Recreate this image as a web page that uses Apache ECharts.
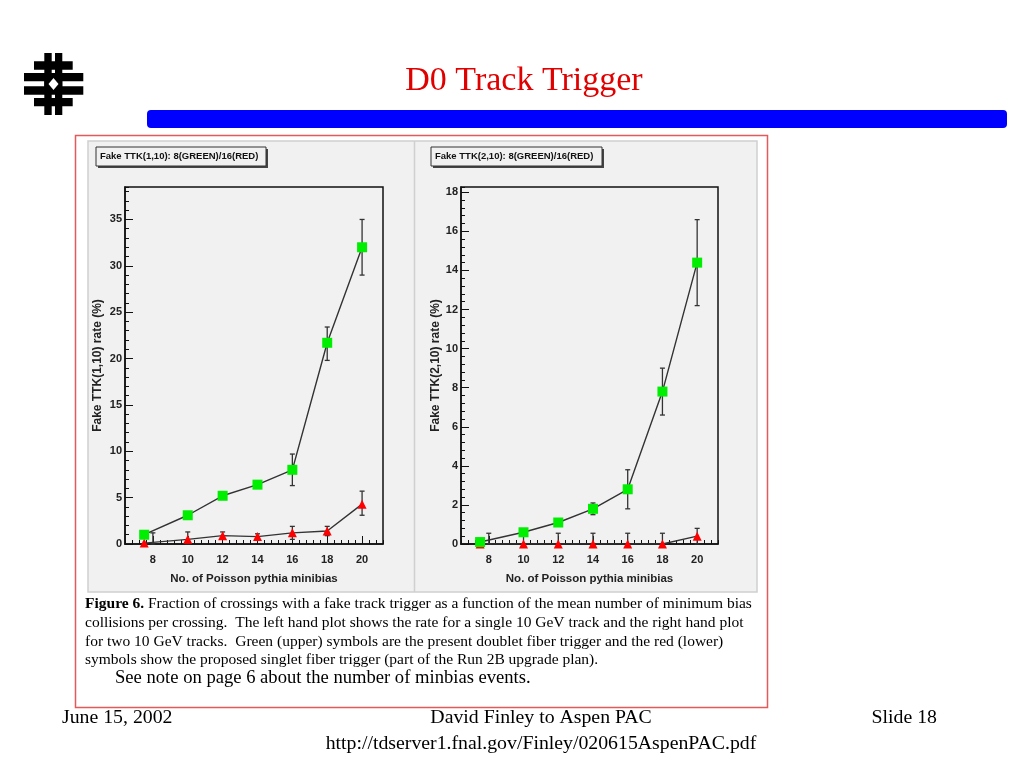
<!DOCTYPE html>
<html>
<head>
<meta charset="utf-8">
<script src="https://cdn.jsdelivr.net/npm/echarts@6/dist/echarts.min.js"></script>
<style>
html,body{margin:0;padding:0;background:#fff;}
#c{width:1024px;height:768px;}
</style>
</head>
<body>
<div id="c"></div>
<script>
// ---- data ----
var xPts = [7.5, 10, 12, 14, 16, 18, 20];
var redErrX = [8, 10, 12, 14, 16, 18, 20];

var leftGreen   = [1.0, 3.1, 5.2, 6.4, 8.0, 21.7, 32.0];
var leftGreenLo = [0.7, 2.9, 5.0, 6.0, 6.3, 19.8, 29.0];
var leftGreenHi = [1.3, 3.3, 5.4, 6.8, 9.7, 23.4, 35.0];
var leftRed     = [0.1, 0.5, 0.9, 0.8, 1.2, 1.4, 4.3];
var leftRedLo   = [0.0, 0.0, 0.5, 0.5, 0.5, 0.9, 3.1];
var leftRedHi   = [1.2, 1.3, 1.3, 1.1, 1.9, 1.9, 5.7];

var rightGreen   = [0.1, 0.6, 1.1, 1.8, 2.8, 7.8, 14.4];
var rightGreenLo = [0.0, 0.45, 0.95, 1.5, 1.8, 6.6, 12.2];
var rightGreenHi = [0.2, 0.75, 1.25, 2.1, 3.8, 9.0, 16.6];
var rightRed     = [0, 0, 0, 0, 0, 0, 0.4];
var rightRedLo   = [0, 0, 0, 0, 0, 0, 0.0];
var rightRedHi   = [0.55, 0.55, 0.55, 0.55, 0.55, 0.55, 0.8];

var xTickLabels = [8, 10, 12, 14, 16, 18, 20];
var leftYTickLabels = [0, 5, 10, 15, 20, 25, 30, 35];
var rightYTickLabels = [0, 2, 4, 6, 8, 10, 12, 14, 16, 18];

var leftTitle = 'Fake TTK(1,10): 8(GREEN)/16(RED)';
var rightTitle = 'Fake TTK(2,10): 8(GREEN)/16(RED)';
var leftYName = 'Fake TTK(1,10) rate (%)';
var rightYName = 'Fake TTK(2,10) rate (%)';
var xName = 'No. of Poisson pythia minibias';

var captionLines = [
  'Fraction of crossings with a fake track trigger as a function of the mean number of minimum bias',
  'collisions per crossing.  The left hand plot shows the rate for a single 10 GeV track and the right hand plot',
  'for two 10 GeV tracks.  Green (upper) symbols are the present doublet fiber trigger and the red (lower)',
  'symbols show the proposed singlet fiber trigger (part of the Run 2B upgrade plan).'
];

// ---- helpers ----
function pairs(xs, ys){ return xs.map(function(x,i){return [x, ys[i]];}); }
function triples(xs, lo, hi){ return xs.map(function(x,i){return [x, lo[i], hi[i]];}); }

var SANS = 'Liberation Sans, Arial, sans-serif';
var SERIF = 'Liberation Serif, Times New Roman, serif';
var INK = '#222';

function errItem(params, api){
  var x = api.value(0), lo = api.value(1), hi = api.value(2);
  var p1 = api.coord([x, lo]), p2 = api.coord([x, hi]);
  var w = 2.5, st = {stroke: '#333', lineWidth: 1.3};
  return {type: 'group', children: [
    {type: 'line', shape: {x1: p1[0], y1: p1[1], x2: p2[0], y2: p2[1]}, style: st},
    {type: 'line', shape: {x1: p1[0]-w, y1: p1[1], x2: p1[0]+w, y2: p1[1]}, style: st},
    {type: 'line', shape: {x1: p2[0]-w, y1: p2[1], x2: p2[0]+w, y2: p2[1]}, style: st}
  ]};
}

function majorX(grid){
  return {
    type: 'value', gridIndex: grid, min: 6.4, max: 21.2, position: 'bottom',
    name: xName, nameLocation: 'middle', nameGap: 29,
    nameTextStyle: {fontFamily: SANS, fontSize: 11.5, color: INK, fontWeight: 'bold'},
    axisLine: {show: true, onZero: false, lineStyle: {color: '#111', width: 1.5}},
    axisTick: {show: true, inside: true, length: 8, customValues: xTickLabels, lineStyle: {color: '#111', width: 1}},
    axisLabel: {customValues: xTickLabels, margin: 10, fontFamily: SANS, fontSize: 11, fontWeight: 'bold', color: INK},
    splitLine: {show: false}
  };
}
function minorX(grid){
  return {
    type: 'value', gridIndex: grid, min: 6.4, max: 21.2, interval: 0.4, position: 'bottom', offset: 0,
    axisLine: {show: false, onZero: false},
    axisTick: {show: true, inside: true, length: 4, lineStyle: {color: '#111', width: 1}},
    axisLabel: {show: false}, splitLine: {show: false}
  };
}
function majorY(grid, max, ticks, name, gap){
  return {
    type: 'value', gridIndex: grid, min: 0, max: max, position: 'left',
    name: name, nameLocation: 'middle', nameGap: gap, nameRotate: 90,
    nameTextStyle: {fontFamily: SANS, fontSize: 12, color: INK, fontWeight: 'bold'},
    axisLine: {show: true, onZero: false, lineStyle: {color: '#111', width: 1.5}},
    axisTick: {show: true, inside: true, length: 8, customValues: ticks, lineStyle: {color: '#111', width: 1}},
    axisLabel: {customValues: ticks, margin: 3, fontFamily: SANS, fontSize: 11, fontWeight: 'bold', color: INK},
    splitLine: {show: false}
  };
}
function minorY(grid, max, step){
  return {
    type: 'value', gridIndex: grid, min: 0, max: max, interval: step, position: 'left', offset: 0,
    axisLine: {show: false, onZero: false},
    axisTick: {show: true, inside: true, length: 4, lineStyle: {color: '#111', width: 1}},
    axisLabel: {show: false}, splitLine: {show: false}
  };
}

function lineSeries(xi, yi, data, sym, color, size){
  return {
    type: 'line', xAxisIndex: xi, yAxisIndex: yi, data: data,
    symbol: sym, symbolSize: size, showSymbol: true, z: 5,
    lineStyle: {color: '#333', width: 1.4},
    itemStyle: {color: color, borderWidth: 0},
    animation: false, silent: true
  };
}
function errSeries(xi, yi, data){
  return {
    type: 'custom', xAxisIndex: xi, yAxisIndex: yi, data: data,
    renderItem: errItem, encode: {x: 0, y: [1, 2]}, z: 4, animation: false, silent: true
  };
}

function legendBox(x, y, w, h, text){
  return [
    {type: 'rect', shape: {x: x+2, y: y+2, width: w, height: h}, style: {fill: '#444'}, z: 10},
    {type: 'rect', shape: {x: x, y: y, width: w, height: h}, style: {fill: '#f1f1f1', stroke: '#333', lineWidth: 1}, z: 11},
    {type: 'text', x: x+4, y: y + h/2, style: {text: text, fontFamily: SANS, fontSize: 9.5, fontWeight: 'bold', fill: '#111', verticalAlign: 'middle'}, z: 12}
  ];
}

// logo (Fermilab)
var logo = [
  {type: 'rect', shape: {x: 44.3, y: 53, width: 7.4, height: 62}, style: {fill: '#000'}},
  {type: 'rect', shape: {x: 55, y: 53, width: 7.3, height: 62}, style: {fill: '#000'}},
  {type: 'rect', shape: {x: 34, y: 61.3, width: 38.7, height: 8.4}, style: {fill: '#000'}},
  {type: 'rect', shape: {x: 24, y: 73, width: 59.3, height: 8.3}, style: {fill: '#000'}},
  {type: 'rect', shape: {x: 24, y: 86.3, width: 59.3, height: 8.4}, style: {fill: '#000'}},
  {type: 'rect', shape: {x: 34, y: 98, width: 38.7, height: 8.3}, style: {fill: '#000'}},
  {type: 'rect', shape: {x: 44.3, y: 81, width: 18, height: 6}, style: {fill: '#000'}},
  {type: 'polygon', shape: {points: [[53.5, 78], [58.5, 84], [53.5, 90], [48.5, 84]]}, style: {fill: '#fff'}}
];
logo.forEach(function(e){ e.z = 20; });

var graphics = [].concat(
  logo,
  [
    {type: 'text', x: 524, y: 81, style: {text: 'D0 Track Trigger', fontFamily: SERIF, fontSize: 34, fill: '#e00000', align: 'center', verticalAlign: 'middle'}},
    {type: 'rect', shape: {x: 147, y: 110, width: 860, height: 18, r: 4}, style: {fill: '#0000ff'}},
    {type: 'rect', shape: {x: 75.5, y: 135.5, width: 692, height: 572}, style: {fill: 'none', stroke: '#e45a5a', lineWidth: 1.5}, z: 30},
    // pads
    {type: 'rect', shape: {x: 88, y: 141, width: 669, height: 451}, style: {fill: '#f1f1f1', stroke: '#cfcfcf', lineWidth: 1.5}, z: -10},
    {type: 'line', shape: {x1: 414.5, y1: 141, x2: 414.5, y2: 592}, style: {stroke: '#d0d0d0', lineWidth: 1.5}, z: -9},
    // caption
    {type: 'text', x: 85, y: 604, style: {text: '{b|Figure 6.} ' + captionLines[0], fontFamily: SERIF, fontSize: 15.5, fill: '#000', verticalAlign: 'middle',
      rich: {b: {fontFamily: SERIF, fontSize: 15.5, fontWeight: 'bold', fill: '#000'}}}},
    {type: 'text', x: 85, y: 623, style: {text: captionLines[1], fontFamily: SERIF, fontSize: 15.5, fill: '#000', verticalAlign: 'middle'}},
    {type: 'text', x: 85, y: 641.5, style: {text: captionLines[2], fontFamily: SERIF, fontSize: 15.5, fill: '#000', verticalAlign: 'middle'}},
    {type: 'text', x: 85, y: 660, style: {text: captionLines[3], fontFamily: SERIF, fontSize: 15.5, fill: '#000', verticalAlign: 'middle'}},
    {type: 'text', x: 115, y: 678, style: {text: 'See note on page 6 about the number of minbias events.', fontFamily: SERIF, fontSize: 18.6, fill: '#000', verticalAlign: 'middle'}},
    // footer
    {type: 'text', x: 62, y: 718, style: {text: 'June 15, 2002', fontFamily: SERIF, fontSize: 19.8, fill: '#000', verticalAlign: 'middle'}},
    {type: 'text', x: 541, y: 718, style: {text: 'David Finley to Aspen PAC', fontFamily: SERIF, fontSize: 19.8, fill: '#000', align: 'center', verticalAlign: 'middle'}},
    {type: 'text', x: 541, y: 744, style: {text: 'http://tdserver1.fnal.gov/Finley/020615AspenPAC.pdf', fontFamily: SERIF, fontSize: 19.8, fill: '#000', align: 'center', verticalAlign: 'middle'}},
    {type: 'text', x: 937, y: 718, style: {text: 'Slide 18', fontFamily: SERIF, fontSize: 19.8, fill: '#000', align: 'right', verticalAlign: 'middle'}}
  ],
  legendBox(96, 147, 170, 19, leftTitle),
  legendBox(431, 147, 171, 19, rightTitle)
);

var chart = echarts.init(document.getElementById('c'), null, {renderer: 'canvas'});
chart.setOption({
  animation: false,
  backgroundColor: '#ffffff',
  grid: [
    {left: 125, top: 187, width: 258, height: 357, show: true, backgroundColor: '#f1f1f1', borderColor: '#111', borderWidth: 1.5, z: 0},
    {left: 461, top: 187, width: 257, height: 357, show: true, backgroundColor: '#f1f1f1', borderColor: '#111', borderWidth: 1.5, z: 0}
  ],
  xAxis: [majorX(0), minorX(0), majorX(1), minorX(1)],
  yAxis: [
    majorY(0, 38.5, leftYTickLabels, leftYName, 21),
    minorY(0, 38.5, 1),
    majorY(1, 18.27, rightYTickLabels, rightYName, 19),
    minorY(1, 18.27, 0.4)
  ],
  series: [
    errSeries(0, 0, triples(xPts, leftGreenLo, leftGreenHi)),
    errSeries(0, 0, triples(redErrX, leftRedLo, leftRedHi)),
    lineSeries(0, 0, pairs(xPts, leftRed), 'triangle', '#ff0000', 9),
    lineSeries(0, 0, pairs(xPts, leftGreen), 'rect', '#00ee00', 10),
    errSeries(2, 2, triples(xPts, rightGreenLo, rightGreenHi)),
    errSeries(2, 2, triples(redErrX, rightRedLo, rightRedHi)),
    lineSeries(2, 2, pairs(xPts, rightRed), 'triangle', '#ff0000', 9),
    lineSeries(2, 2, pairs(xPts, rightGreen), 'rect', '#00ee00', 10)
  ],
  graphic: graphics
});
</script>
</body>
</html>
